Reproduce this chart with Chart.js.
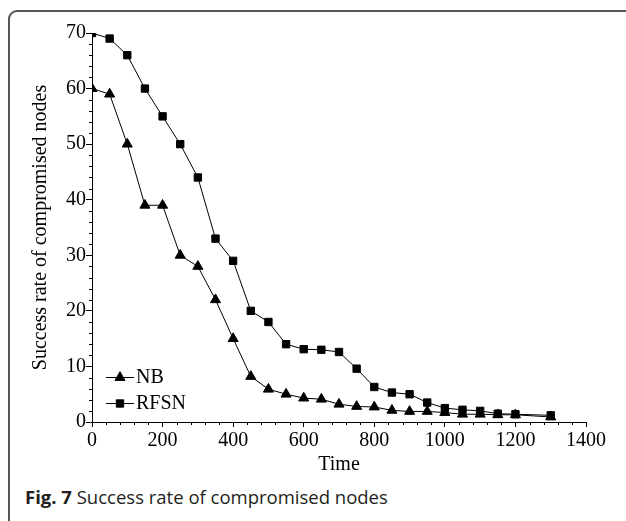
<!DOCTYPE html>
<html>
<head>
<meta charset="utf-8">
<script src="https://cdn.jsdelivr.net/npm/chart.js@4"></script>
<style>
  html, body { margin: 0; padding: 0; background: #fff; overflow: hidden; }
  body { width: 626px; height: 521px; position: relative; }
  #frame { position: absolute; left: 8px; top: 10px; width: 700px; height: 600px;
           border: 2px solid #555; border-radius: 9px; box-sizing: border-box; }
  #wrap { position: absolute; left: 0; top: 0; width: 626px; height: 480px; }
  #caption { position: absolute; left: 25px; top: 484px; font-family: "Open Sans", sans-serif;
             font-size: 18.5px; color: #231f20; white-space: nowrap; letter-spacing: 0; }
  #caption b { font-weight: 700; }
</style>
</head>
<body>
<div id="frame"></div>
<div id="wrap"><canvas id="c" width="626" height="480"></canvas></div>
<div id="caption"><b>Fig. 7</b> Success rate of compromised nodes</div>
<script>
const times = [0,50,100,150,200,250,300,350,400,450,500,550,600,650,700,750,800,850,900,950,1000,1050,1100,1150,1200,1300];
const nbValues = [60,59,50,39,39,30,28,22,15,8.2,5.9,5.0,4.3,4.1,3.2,2.8,2.7,2.1,1.9,1.9,1.7,1.4,1.4,1.3,1.3,0.9];
const rfsnValues = [70,69,66,60,55,50,44,33,29,20,18,14,13.1,13,12.6,9.6,6.3,5.3,5.0,3.5,2.5,2.2,2.0,1.5,1.4,1.2];
const seriesNames = ["NB", "RFSN"];
const xTitle = "Time";
const yTitle = "Success rate of compromised nodes";

const serif = "'Liberation Serif', 'Times New Roman', serif";

const minorTicks = {
  id: 'minorTicks',
  afterDraw(chart) {
    const ctx = chart.ctx;
    ctx.save();
    ctx.strokeStyle = '#000';
    ctx.lineWidth = 1;
    const xs = chart.scales.x, ys = chart.scales.y;
    for (let v = xs.min; v <= xs.max; v += 40) {
      if (v % 200 === 0) continue;
      const px = Math.round(xs.getPixelForValue(v)) + 0.5;
      ctx.beginPath(); ctx.moveTo(px, ys.bottom); ctx.lineTo(px, ys.bottom + 3); ctx.stroke();
    }
    for (let v = ys.min; v <= ys.max; v += 2) {
      if (v % 10 === 0) continue;
      const py = Math.round(ys.getPixelForValue(v)) + 0.5;
      ctx.beginPath(); ctx.moveTo(xs.left, py); ctx.lineTo(xs.left - 3, py); ctx.stroke();
    }
    ctx.restore();
  }
};

const lineLegend = {
  id: 'lineLegend',
  afterDraw(chart) {
    const ctx = chart.ctx;
    const area = chart.chartArea;
    ctx.save();
    chart.data.datasets.forEach((ds, i) => {
      const y = area.bottom - 45 + i * 26;
      const x0 = area.left + 14;
      ctx.strokeStyle = ds.borderColor; ctx.lineWidth = 1;
      ctx.beginPath(); ctx.moveTo(x0, y + 0.5); ctx.lineTo(x0 + 28, y + 0.5); ctx.stroke();
      ctx.fillStyle = ds.backgroundColor;
      Chart.helpers.drawPoint(ctx, {pointStyle: ds.pointStyle, rotation: 0, borderWidth: 1, radius: ds.pointRadius}, x0 + 14, y + 0.5);
      ctx.fillStyle = '#000';
      ctx.font = "20px " + serif;
      ctx.textBaseline = 'middle';
      ctx.textAlign = 'left';
      ctx.fillText(ds.label, x0 + 30, y + 1);
    });
    ctx.restore();
  }
};

new Chart(document.getElementById('c'), {
  type: 'line',
  data: {
    datasets: [
      { label: seriesNames[0], data: times.map((t, i) => ({x: t, y: nbValues[i]})),
        borderColor: '#000', backgroundColor: '#000', borderWidth: 1,
        pointStyle: 'triangle', pointRadius: 5.8, pointBorderWidth: 1, tension: 0 },
      { label: seriesNames[1], data: times.map((t, i) => ({x: t, y: rfsnValues[i]})),
        borderColor: '#000', backgroundColor: '#000', borderWidth: 1,
        pointStyle: 'rect', pointRadius: 5.2, pointBorderWidth: 1, tension: 0 }
    ]
  },
  options: {
    responsive: false,
    animation: false,
    devicePixelRatio: 1,
    layout: { padding: { top: 33, right: 40, left: 0, bottom: 0 } },
    plugins: { legend: { display: false }, tooltip: { enabled: false } },
    scales: {
      x: {
        type: 'linear', min: 0, max: 1400,
        ticks: { stepSize: 200, color: '#000', padding: 2, maxRotation: 0, font: { family: serif, size: 20 },
                 callback: v => String(v) },
        grid: { drawOnChartArea: false, drawTicks: true, tickLength: 5, color: '#000' },
        border: { display: true, color: '#000', width: 1 },
        title: { display: true, text: xTitle, color: '#000', font: { family: serif, size: 20 }, padding: { top: 0, bottom: 3 } },
        afterFit(s) { s.height = 58; }
      },
      y: {
        type: 'linear', min: 0, max: 70,
        ticks: { stepSize: 10, color: '#000', padding: 0, font: { family: serif, size: 20 },
                 callback: v => String(v) },
        grid: { drawOnChartArea: false, drawTicks: true, tickLength: 6, color: '#000' },
        border: { display: true, color: '#000', width: 1 },
        title: { display: true, text: yTitle, color: '#000', font: { family: serif, size: 20 }, padding: { top: 29, bottom: 0 } },
        afterFit(s) { s.width = 92; }
      }
    }
  },
  plugins: [minorTicks, lineLegend]
});
</script>
</body>
</html>
